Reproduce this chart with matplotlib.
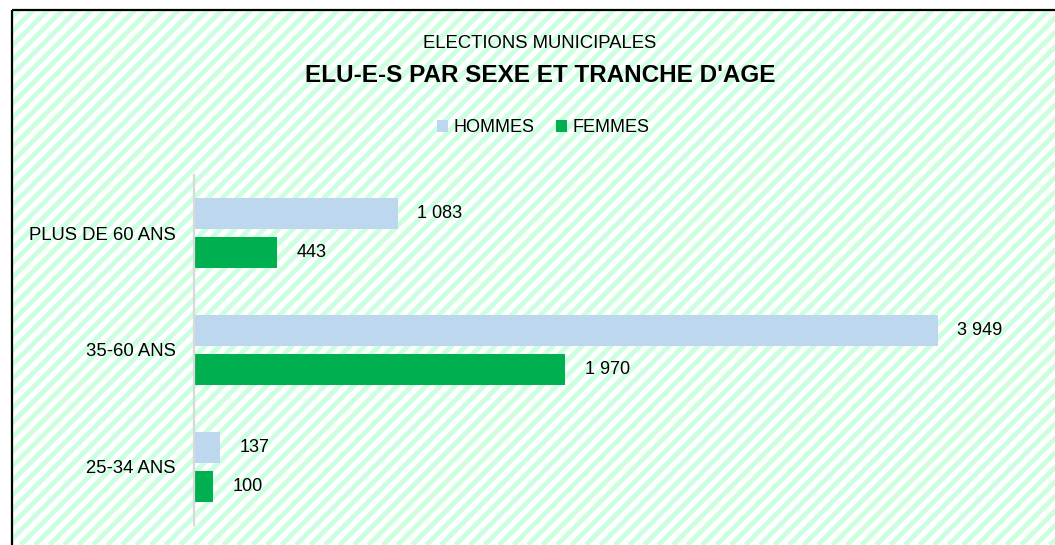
import numpy as np
import matplotlib.pyplot as plt
from matplotlib.patches import Rectangle

# donnees
categories = ["25-34 ANS", "35-60 ANS", "PLUS DE 60 ANS"]
hommes = [137, 3949, 1083]
femmes = [100, 1970, 443]
series_labels = ["HOMMES", "FEMMES"]

plt.rcParams["font.family"] = ["Liberation Sans Narrow", "Liberation Sans", "DejaVu Sans"]

W, H = 1055, 545
fig = plt.figure(figsize=(W / 100, H / 100), dpi=100)

# fond hachure (coordonnees pixels)
bg = fig.add_axes([0, 0, 1, 1], zorder=0)
bg.set_xlim(0, W)
bg.set_ylim(H, 0)
bg.axis("off")
step = 14.5
for x0 in np.arange(-H, W + 20, step):
    bg.plot([x0, x0 + H], [H, 0], color="#ccffe0", lw=3.6, solid_capstyle="butt", zorder=1)
bg.fill_between([0, W], 0, 9.2, color="white", zorder=3)
bg.fill_between([0, 11.2], 0, H, color="white", zorder=3)
# bord
bg.add_patch(Rectangle((12, 10), W + 50, H + 50, fill=False, ec="black", lw=1.6, zorder=5))

# graphique
px = 744 / 3949  # pixels par unite
xmax = 4500
ax = fig.add_axes([194 / W, 1 - 525 / H, xmax * px / W, 350 / H], zorder=1)
ax.patch.set_alpha(0)

y = np.arange(len(categories))
h = 0.265
off = 0.167
b1 = ax.barh(y + off, hommes, height=h, color="#bdd7ee", label=series_labels[0])
b2 = ax.barh(y - off, femmes, height=h, color="#00b050", label=series_labels[1])

def fmt(v):
    return f"{v:,}".replace(",", " ")

for bars, vals in ((b1, hommes), (b2, femmes)):
    for r, v in zip(bars, vals):
        ax.annotate(fmt(v), (v, r.get_y() + r.get_height() / 2), xytext=(14, 0),
                    textcoords="offset points", va="center", ha="left", fontsize=13)

ax.set_xlim(0, xmax)
ax.set_ylim(-0.5, 2.5)
ax.set_yticks(y)
ax.set_yticklabels(categories, fontsize=13.3)
ax.tick_params(axis="y", length=0, pad=13)
ax.set_xticks([])
for s in ("top", "right", "bottom"):
    ax.spines[s].set_visible(False)
ax.spines["left"].set_color("#d9d9d9")
ax.spines["left"].set_linewidth(1.6)

fig.text(540 / W, 1 - 43 / H, "ELECTIONS MUNICIPALES", ha="center", va="center", fontsize=13.3)
fig.text(540 / W, 1 - 75 / H, "ELU-E-S PAR SEXE ET TRANCHE D'AGE", ha="center", va="center",
         fontsize=17.5, fontweight="bold")

fig.legend(handles=[b1, b2], loc="center", bbox_to_anchor=(543 / W, 1 - 128 / H), ncol=2,
           frameon=False, fontsize=13, handlelength=0.6, handleheight=0.6,
           handletextpad=0.3, columnspacing=1.2)

fig.savefig("out.png", dpi=100)
